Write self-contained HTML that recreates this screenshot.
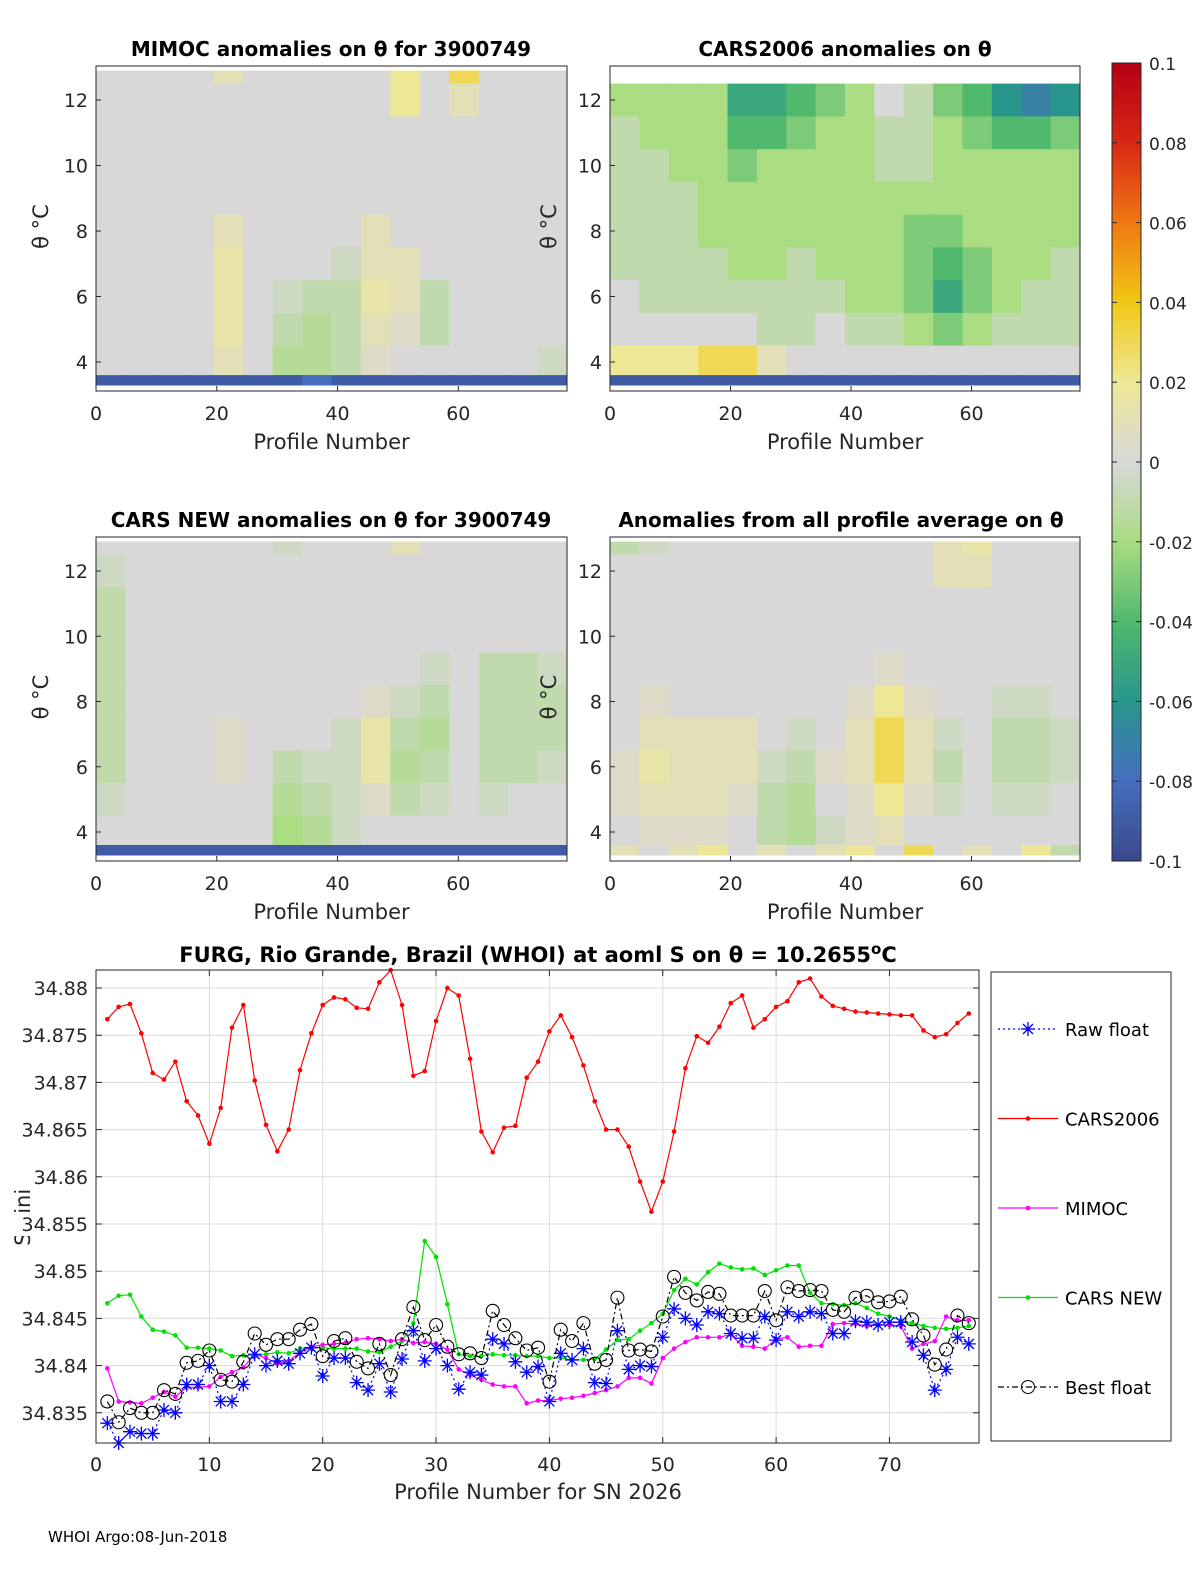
<!DOCTYPE html>
<html><head><meta charset="utf-8"><style>
body{margin:0;background:#fff;}
svg{display:block;font-family:"DejaVu Sans","Liberation Sans",sans-serif;}
</style></head><body>
<svg id="fig" width="1200" height="1575" viewBox="0 0 1200 1575" xmlns="http://www.w3.org/2000/svg">
<rect width="1200" height="1575" fill="#fff"/>
<g id="heat"></g>
<g id="bottom"></g>
<g id="colorbar"></g>
<text x="48" y="1542" font-size="15">WHOI Argo:08-Jun-2018</text>
</svg>
<script>
// ---------- heatmap data (anomaly in units of 0.01), rows top(θ high) -> bottom ----------
const thetaEdges=[12.9,12.5,11.5,10.5,9.5,8.5,7.5,6.5,5.5,4.5,3.6,3.1];
const profileCols=16;
const mimocGrid=[
[0,0,0,0,1,0,0,0,0,0,2,0,3,0,0,0],
[0,0,0,0,0,0,0,0,0,0,2,0,1,0,0,0],
[0,0,0,0,0,0,0,0,0,0,0,0,0,0,0,0],
[0,0,0,0,0,0,0,0,0,0,0,0,0,0,0,0],
[0,0,0,0,0,0,0,0,0,0,0,0,0,0,0,0],
[0,0,0,0,1,0,0,0,0,1,0,0,0,0,0,0],
[0,0,0,0,1.5,0,0,0,-0.5,1,1,0,0,0,0,0],
[0,0,0,0,1.5,0,-0.5,-1,-1,1.5,1,-1,0,0,0,0],
[0,0,0,0,1.5,0,-1,-1.5,-1,1,0.5,-1,0,0,0,0],
[0,0,0,0,1,0,-1.5,-1.5,-1,0.5,0,0,0,0,0,-0.5],
[-9,-9,-9,-9,-9,-9,-9,-8,-9,-9,-9,-9,-9,-9,-9,-9]];
const cars2006Grid=[
[null,null,null,null,null,null,null,null,null,null,null,null,null,null,null,null],
[-2,-2,-2,-2,-5,-5,-4,-3,-2,0,-1,-3,-4,-6,-7,-6],
[-1,-2,-2,-2,-4,-4,-3,-2,-2,-1,-1,-2,-3,-4,-4,-3],
[-1,-1,-2,-2,-3,-2,-2,-2,-2,-1,-1,-2,-2,-2,-2,-2],
[-1,-1,-1,-2,-2,-2,-2,-2,-2,-2,-2,-2,-2,-2,-2,-2],
[-1,-1,-1,-2,-2,-2,-2,-2,-2,-2,-3,-3,-2,-2,-2,-2],
[-1,-1,-1,-1,-2,-2,-1,-2,-2,-2,-3,-4,-3,-2,-2,-1],
[0,-1,-1,-1,-1,-1,-1,-1,-2,-2,-3,-5,-3,-2,-1,-1],
[0,0,0,0,0,-1,-1,0,-1,-1,-2,-3,-2,-1,-1,-1],
[2,2,2,3,3,1,0,0,0,0,0,0,0,0,0,0],
[-9,-9,-9,-9,-9,-9,-9,-9,-9,-9,-9,-9,-9,-9,-9,-9]];
const carsNewGrid=[
[0,0,0,0,0,0,-0.5,0,0,0,1,0,0,0,0,0],
[-0.5,0,0,0,0,0,0,0,0,0,0,0,0,0,0,0],
[-1,0,0,0,0,0,0,0,0,0,0,0,0,0,0,0],
[-1,0,0,0,0,0,0,0,0,0,0,0,0,0,0,0],
[-1,0,0,0,0,0,0,0,0,0,0,-0.5,0,-1,-1,-0.5],
[-1,0,0,0,0,0,0,0,0,0.5,-0.5,-1,0,-1,-1,-1],
[-1,0,0,0,0.5,0,0,0,-0.5,1.5,-1,-1.5,0,-1,-1,-1],
[-1,0,0,0,0.5,0,-1,-0.5,-0.5,1.5,-1.5,-1,0,-1,-1,-0.5],
[-0.5,0,0,0,0,0,-1.5,-1,-0.5,0.5,-1,-0.5,0,-0.5,0,0],
[0,0,0,0,0,0,-2,-1.5,-0.5,0,0,0,0,0,0,0],
[-9,-9,-9,-9,-9,-9,-9,-9,-9,-9,-9,-9,-9,-9,-9,-9]];
const allAvgGrid=[
[-1,-0.5,0,0,0,0,0,0,0,0,0,1,1.5,0,0,0],
[0,0,0,0,0,0,0,0,0,0,0,1,1,0,0,0],
[0,0,0,0,0,0,0,0,0,0,0,0,0,0,0,0],
[0,0,0,0,0,0,0,0,0,0,0,0,0,0,0,0],
[0,0,0,0,0,0,0,0,0,0.5,0,0,0,0,0,0],
[0,0.5,0,0,0,0,0,0,0.5,2,0.5,0,0,-0.5,-0.5,0],
[0,1,1,1,1,0,-0.5,0,1,3,1,-0.5,0,-1,-1,-0.5],
[0.5,1.5,1,1,1,-0.5,-1,0.5,1,3,1,-1,0,-1,-1,-0.5],
[0.5,1,1,1,0.5,-1,-1.5,0,0.5,2,0.5,-0.5,0,-0.5,-0.5,0],
[0,0.5,0.5,0.5,0,-1,-1.5,-0.5,0.5,1,0,0,0,0,0,0],
[1,0,1,2,0,1,0,1,2,0,3,0,1,0,2,-1]];

// ---------- bottom chart data ----------
const profiles=[];for(let i=1;i<=77;i++)profiles.push(i);
const cars2006=[34.8767,34.878,34.8783,34.8752,34.871,34.8703,34.8722,34.868,34.8665,34.8635,34.8673,34.8758,34.8782,34.8702,34.8655,34.8627,34.865,34.8713,34.8752,34.8782,34.879,34.8788,34.8779,34.8778,34.8806,34.8819,34.8782,34.8707,34.8712,34.8765,34.880,34.8792,34.8725,34.8648,34.8626,34.8652,34.8654,34.8705,34.8722,34.8754,34.8771,34.8748,34.8718,34.868,34.865,34.865,34.8632,34.8595,34.8563,34.8595,34.8648,34.8715,34.8749,34.8742,34.8759,34.8784,34.8792,34.8758,34.8767,34.878,34.8786,34.8806,34.881,34.8791,34.8781,34.8778,34.8775,34.8774,34.8773,34.8772,34.8771,34.8771,34.8755,34.8748,34.8751,34.8763,34.8773];
const carsNew=[34.8466,34.8474,34.8475,34.8452,34.8438,34.8436,34.8432,34.8419,34.8419,34.8418,34.8416,34.841,34.8411,34.841,34.8412,34.8414,34.8413,34.8418,34.8419,34.8419,34.8418,34.8418,34.8418,34.8415,34.8414,34.842,34.8426,34.8445,34.8532,34.8515,34.8465,34.8412,34.841,34.841,34.8412,34.8411,34.8411,34.841,34.841,34.8408,34.8408,34.8406,34.8406,34.8407,34.8417,34.8427,34.8428,34.8437,34.8445,34.8455,34.848,34.8492,34.8486,34.8499,34.8508,34.8504,34.8502,34.8503,34.8496,34.8501,34.8506,34.8506,34.8477,34.8466,34.8465,34.8464,34.8466,34.8461,34.8455,34.8452,34.8448,34.8445,34.8442,34.844,34.8439,34.844,34.8442];
const mimoc=[34.8397,34.8362,34.8361,34.836,34.8366,34.8372,34.8367,34.8377,34.8377,34.8378,34.8388,34.8393,34.8398,34.8412,34.8408,34.8402,34.8405,34.8414,34.842,34.8422,34.8423,34.8424,34.8428,34.8429,34.8428,34.8426,34.8428,34.8424,34.8425,34.8423,34.8417,34.8396,34.839,34.8385,34.838,34.8378,34.8378,34.836,34.8363,34.8363,34.8365,34.8366,34.8368,34.8371,34.8374,34.8378,34.8387,34.8387,34.8381,34.8408,34.8418,34.8425,34.843,34.843,34.843,34.8433,34.8421,34.842,34.8418,34.8428,34.843,34.842,34.8421,34.8421,34.8444,34.8445,34.8444,34.8442,34.8443,34.8443,34.8442,34.8418,34.8423,34.8426,34.8452,34.8448,34.8448];
const rawFloat=[34.8339,34.8318,34.833,34.8328,34.8328,34.8353,34.835,34.838,34.838,34.84,34.8362,34.8362,34.838,34.8412,34.84,34.8405,34.8402,34.8413,34.8419,34.8389,34.8408,34.8408,34.8382,34.8374,34.8402,34.8372,34.8407,34.8437,34.8405,34.8418,34.84,34.8375,34.8393,34.839,34.8428,34.8423,34.8404,34.8393,34.8399,34.8362,34.8413,34.8406,34.8418,34.8382,34.8381,34.8437,34.8396,34.84,34.8399,34.843,34.846,34.845,34.8443,34.8457,34.8455,34.8434,34.8429,34.8429,34.8452,34.8427,34.8457,34.8452,34.8457,34.8455,34.8434,34.8434,34.8447,34.8446,34.8443,34.8446,34.8446,34.8425,34.8411,34.8374,34.8396,34.843,34.8423];
const bestFloat=[34.8362,34.834,34.8355,34.835,34.835,34.8374,34.837,34.8403,34.8405,34.8416,34.8385,34.8383,34.8404,34.8434,34.8422,34.8428,34.8428,34.8438,34.8444,34.841,34.8426,34.8429,34.8404,34.8397,34.8423,34.839,34.8428,34.8462,34.8427,34.8443,34.842,34.8412,34.8413,34.8408,34.8458,34.8443,34.8429,34.8416,34.8419,34.8383,34.8438,34.8426,34.8445,34.8402,34.8406,34.8472,34.8416,34.8417,34.8415,34.8452,34.8494,34.8477,34.8469,34.8478,34.8476,34.8453,34.8453,34.8453,34.8479,34.8448,34.8483,34.8479,34.848,34.8479,34.8459,34.8457,34.8472,34.8474,34.8467,34.8468,34.8473,34.8449,34.8432,34.8401,34.8417,34.8453,34.8445];
const yTicks=[34.835,34.84,34.845,34.85,34.855,34.86,34.865,34.87,34.875,34.88];
const yTickLabels=["34.835","34.84","34.845","34.85","34.855","34.86","34.865","34.87","34.875","34.88"];
const xTicks=[0,10,20,30,40,50,60,70];
const heatXTicks=[0,20,40,60];
const heatYTicks=[4,6,8,10,12];
const cbTicks=[0.1,0.08,0.06,0.04,0.02,0,-0.02,-0.04,-0.06,-0.08,-0.1];
const cbTickLabels=["0.1","0.08","0.06","0.04","0.02","0","-0.02","-0.04","-0.06","-0.08","-0.1"];

const NS="http://www.w3.org/2000/svg";
function mk(tag,attrs,parent){const e=document.createElementNS(NS,tag);for(const k in attrs)e.setAttribute(k,attrs[k]);parent.appendChild(e);return e;}

const stops=[[-10,[58,72,140]],[-8,[70,110,190]],[-6,[40,150,140]],[-4,[80,185,110]],[-2,[170,220,130]],[0,[216,216,216]],[2,[238,232,150]],[4,[240,200,20]],[6,[240,120,20]],[8,[215,40,20]],[10,[180,0,20]]];
function cmap(v){v=Math.max(-10,Math.min(10,v));for(let i=0;i<stops.length-1;i++){const a=stops[i],b=stops[i+1];if(v<=b[0]){const t=(v-a[0])/(b[0]-a[0]);const c=a[1].map((x,j)=>Math.round(x+t*(b[1][j]-x)));return `rgb(${c[0]},${c[1]},${c[2]})`;}}return "rgb(180,0,20)";}

const heatG=document.getElementById('heat');
const panels=[
 {grid:mimocGrid,x0:96,x1:567,y0:66,y1:391,y12:100,y4:362,title:"MIMOC anomalies on θ  for 3900749",tx:331,ty:56,ylab:48,name:"mimoc"},
 {grid:cars2006Grid,x0:610,x1:1080,y0:66,y1:391,y12:100,y4:362,title:"CARS2006 anomalies on θ",tx:845,ty:56,ylab:556,name:"cars2006"},
 {grid:carsNewGrid,x0:96,x1:567,y0:537,y1:861,y12:571,y4:832,title:"CARS NEW anomalies on θ for 3900749",tx:331,ty:527,ylab:48,name:"cars-new"},
 {grid:allAvgGrid,x0:610,x1:1080,y0:537,y1:861,y12:571,y4:832,title:"Anomalies from all profile average on θ",tx:841,ty:527,ylab:556,name:"all-average"}];
panels.forEach(p=>{
  const g=mk('g',{},heatG);
  
  
  const px=v=>p.x0+v*(p.x1-p.x0)/78;
  const ty=t=>p.y12+(12-t)*(p.y4-p.y12)/8;
  const cw=78/profileCols;
  p.grid.forEach((row,r)=>{row.forEach((v,c)=>{
    if(v===null)return;
    const x=px(c*cw),w=px((c+1)*cw)-x;
    const yA=Math.max(p.y0,ty(thetaEdges[r])),yB=Math.min(p.y1-6,ty(thetaEdges[r+1]));
    const cell=mk('rect',{x:x.toFixed(1),y:yA.toFixed(1),width:(w+0.5).toFixed(1),height:(yB-yA+0.5).toFixed(1),fill:cmap(v)},g);
    
    
  });});
  const ax=mk('rect',{x:p.x0,y:p.y0,width:p.x1-p.x0,height:p.y1-p.y0,fill:'none',stroke:'#262626','stroke-width':1},g);
  
  
  heatXTicks.forEach(t=>{const x=px(t);
    mk('line',{x1:x,x2:x,y1:p.y1,y2:p.y1-5,stroke:'#262626'},g);
    const tl=mk('text',{x:x,y:p.y1+29,'font-size':19,'text-anchor':'middle',fill:'#262626'},g);tl.textContent=t;
    
    });
  heatYTicks.forEach(t=>{const y=ty(t);
    mk('line',{x1:p.x0,x2:p.x0+5,y1:y,y2:y,stroke:'#262626'},g);
    const tl=mk('text',{x:p.x0-8,y:y+7,'font-size':19,'text-anchor':'end',fill:'#262626'},g);tl.textContent=t;
    
    });
  const tt=mk('text',{x:p.tx,y:p.ty,'font-size':20,'font-weight':'bold','text-anchor':'middle',fill:'#000'},g);tt.textContent=p.title;
  
  
  const xl=mk('text',{x:(p.x0+p.x1)/2,y:p.y1+58,'font-size':21,'text-anchor':'middle',fill:'#262626'},g);xl.textContent="Profile Number";
  
  
  const yl=mk('text',{x:0,y:0,'font-size':21,'text-anchor':'middle',fill:'#262626',transform:`translate(${p.ylab},${(p.y0+p.y1)/2-2}) rotate(-90)`},g);yl.textContent="θ °C";
  
  
});

// colorbar
const cb=document.getElementById('colorbar');
const defs=mk('defs',{},cb);
const lg=mk('linearGradient',{id:'cbg',x1:0,y1:1,x2:0,y2:0},defs);
stops.forEach(s=>mk('stop',{offset:((s[0]+10)/20).toFixed(3),'stop-color':`rgb(${s[1].join(',')})`},lg));
mk('rect',{x:1112,y:63,width:29,height:798,fill:'url(#cbg)',stroke:'#262626'},cb);
cbTicks.forEach((t,i)=>{const y=63+(0.1-t)/0.2*798;
  mk('line',{x1:1112,x2:1117,y1:y,y2:y,stroke:'#262626'},cb);mk('line',{x1:1136,x2:1141,y1:y,y2:y,stroke:'#262626'},cb);
  const tl=mk('text',{x:1149,y:y+7,'font-size':17,fill:'#262626'},cb);tl.textContent=cbTickLabels[i];
  
  });

// bottom chart
const B=document.getElementById('bottom');


const bx0=96,bx1=979,by0=970,by1=1443;
const X=v=>bx0+v*(bx1-bx0)/77.9;
const Y=v=>988+(34.88-v)/0.005*47.2;
const byl=mk('text',{x:0,y:0,'font-size':21,'text-anchor':'middle',fill:'#262626',transform:'translate(30,1207) rotate(-90)'},B);byl.textContent="Salinity";


mk('rect',{x:0,y:1135,width:14,height:150,fill:'#fff'},B);
yTicks.forEach((t,i)=>{const y=Y(t);
  const bg=mk('rect',{x:14,y:y-12,width:76,height:24,fill:'#fff'},B);
  const tl=mk('text',{x:88,y:y+7,'font-size':19,'text-anchor':'end',fill:'#262626'},B);tl.textContent=yTickLabels[i];
  
  });
mk('rect',{x:bx0,y:by0,width:bx1-bx0,height:by1-by0,fill:'#fff'},B);
yTicks.forEach(t=>{const y=Y(t);
  mk('line',{x1:bx0,x2:bx1,y1:y,y2:y,stroke:'#dcdcdc'},B);
  mk('line',{x1:bx0,x2:bx0+6,y1:y,y2:y,stroke:'#262626'},B);mk('line',{x1:bx1-6,x2:bx1,y1:y,y2:y,stroke:'#262626'},B);});
xTicks.forEach(t=>{const x=X(t);
  mk('line',{x1:x,x2:x,y1:by0,y2:by1,stroke:'#dcdcdc'},B);
  mk('line',{x1:x,x2:x,y1:by1,y2:by1-6,stroke:'#262626'},B);mk('line',{x1:x,x2:x,y1:by0,y2:by0+6,stroke:'#262626'},B);
  const tl=mk('text',{x:x,y:by1+28,'font-size':19,'text-anchor':'middle',fill:'#262626'},B);tl.textContent=t;
  
  });
function series(vals,color,dash,name,marker){
  const g=mk('g',{},B);
  
  
  const pts=vals.map((v,i)=>X(profiles[i]).toFixed(1)+','+Y(v).toFixed(1)).join(' ');
  mk('polyline',{points:pts,fill:'none',stroke:color,'stroke-width':1.2,'stroke-dasharray':dash},g);
  vals.forEach((v,i)=>{const x=X(profiles[i]),y=Y(v);
    if(marker==='dot')mk('circle',{cx:x,cy:y,r:2.3,fill:color},g);
    else if(marker==='star'){const s=7;mk('path',{d:`M${x-s},${y}H${x+s}M${x},${y-s}V${y+s}M${x-5},${y-5}L${x+5},${y+5}M${x-5},${y+5}L${x+5},${y-5}`,stroke:color,'stroke-width':1.3},g);}
    else mk('circle',{cx:x,cy:y,r:6.5,fill:'none',stroke:'#000','stroke-width':1.1},g);});
}
series(cars2006,'#ff0000','','cars2006-series','dot');
series(carsNew,'#00e000','','cars-new-series','dot');
series(mimoc,'#ff00ff','','mimoc-series','dot');
series(rawFloat,'#0000ff','2 3','raw-float-series','star');
series(bestFloat,'#000','6 3 2 3','best-float-series','circle');
mk('rect',{x:bx0,y:by0,width:bx1-bx0,height:by1-by0,fill:'none',stroke:'#262626'},B);
const bt=mk('text',{x:538,y:962,'font-size':21,'font-weight':'bold','text-anchor':'middle'},B);
bt.innerHTML='FURG, Rio Grande, Brazil (WHOI) at aoml S on θ = 10.2655<tspan dy="-8" font-size="15">o</tspan><tspan dy="8">C</tspan>';


const bxl=mk('text',{x:538,y:1499,'font-size':21,'text-anchor':'middle',fill:'#262626'},B);bxl.textContent="Profile Number for SN 2026";



// legend
const L=mk('g',{},B);


mk('rect',{x:991,y:972,width:180,height:469,fill:'#fff',stroke:'#262626'},L);
const legItems=[["Raw float",'#0000ff','2 3','star'],["CARS2006",'#ff0000','','dot'],["MIMOC",'#ff00ff','','dot'],["CARS NEW",'#00e000','','dot'],["Best float",'#000','6 3 2 3','circle']];
legItems.forEach((it,i)=>{const y=1029+i*89.5;
  const e=mk('g',{},L);
  
  
  mk('line',{x1:998,x2:1058,y1:y,y2:y,stroke:it[1],'stroke-width':1.2,'stroke-dasharray':it[2]},e);
  const x=1028;
  if(it[3]==='dot')mk('circle',{cx:x,cy:y,r:2.3,fill:it[1]},e);
  else if(it[3]==='star')mk('path',{d:`M${x-7},${y}H${x+7}M${x},${y-7}V${y+7}M${x-5},${y-5}L${x+5},${y+5}M${x-5},${y+5}L${x+5},${y-5}`,stroke:it[1],'stroke-width':1.3},e);
  else mk('circle',{cx:x,cy:y,r:6.5,fill:'none',stroke:'#000'},e);
  const t=mk('text',{x:1065,y:y+7,'font-size':18,fill:'#000'},e);t.textContent=it[0];});
</script>
</body></html>
